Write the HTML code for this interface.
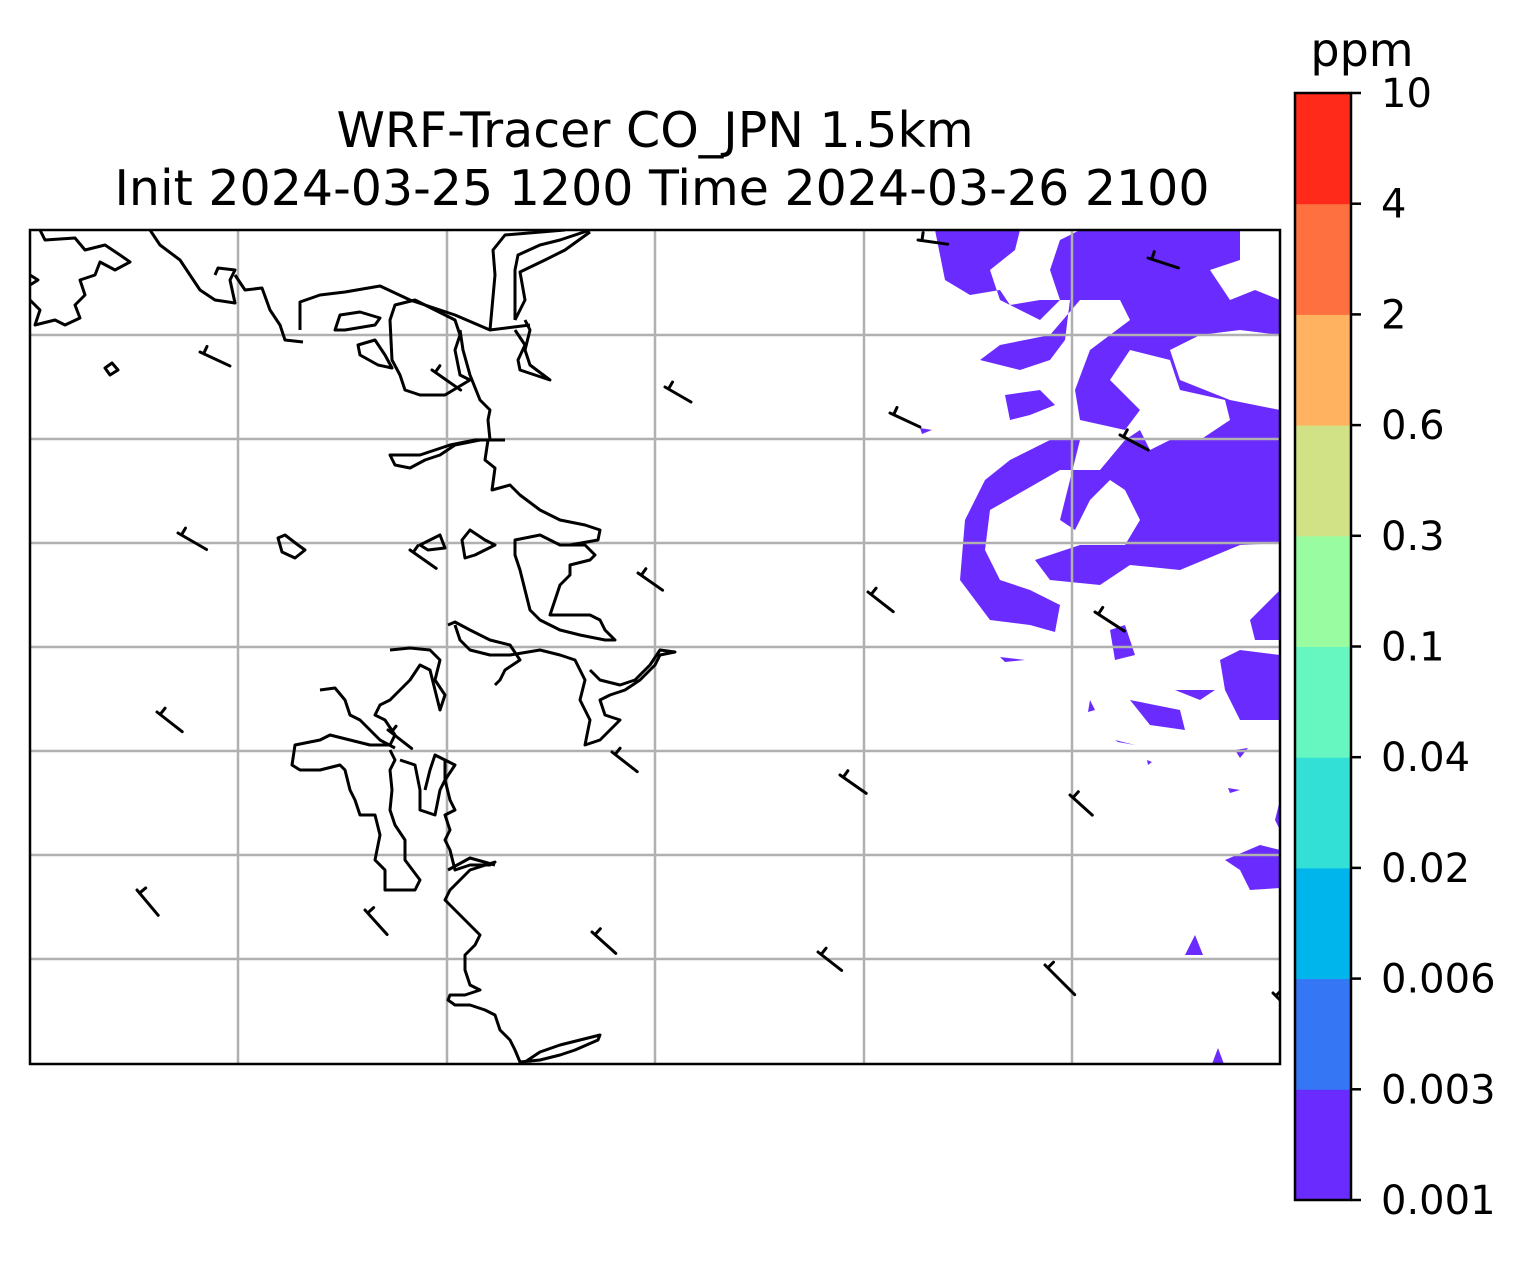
<!DOCTYPE html>
<html><head><meta charset="utf-8"><style>
body{margin:0;background:#fff;font-family:"Liberation Sans","DejaVu Sans",sans-serif}
svg text{font-family:"DejaVu Sans","Liberation Sans",sans-serif}
</style></head><body>
<svg id="chart" width="1528" height="1256" viewBox="0 0 1528 1256" xmlns="http://www.w3.org/2000/svg">
<rect width="1528" height="1256" fill="#fff"/>
<text x="655" y="147" font-size="49" text-anchor="middle">WRF-Tracer CO_JPN 1.5km</text>
<text x="662" y="205" font-size="49" text-anchor="middle">Init 2024-03-25 1200 Time 2024-03-26 2100</text>
<defs><clipPath id="mapclip"><rect x="30" y="230" width="1250" height="834"/></clipPath></defs>
<g clip-path="url(#mapclip)">
<g fill="#6a2bff">
<path d="M935,230 L1020,230 L1015,250 L990,270 L1000,300 L1040,320 L1060,300 L1050,270 L1060,240 L1080,230 L1240,230 L1240,260 L1210,270 L1230,300 L1255,290 L1280,300 L1280,335 L1240,330 L1200,335 L1170,350 L1180,380 L1230,400 L1280,410 L1280,543 L1240,545 L1180,570 L1130,565 L1100,585 L1050,580 L1035,560 L1080,545 L1125,545 L1140,520 L1125,490 L1110,480 L1090,500 L1075,530 L1060,520 L1070,480 L1080,440 L1050,440 L1010,460 L985,480 L965,520 L960,580 L990,620 L1030,625 L1055,632 L1060,605 L1030,590 L1000,580 L985,550 L990,510 L1025,490 L1060,470 L1100,470 L1125,440 L1140,430 L1150,450 L1170,440 L1200,440 L1230,420 L1225,400 L1180,390 L1170,360 L1130,350 L1110,380 L1140,410 L1125,430 L1080,420 L1075,390 L1090,350 L1110,335 L1130,320 L1120,300 L1080,300 L1050,335 L1000,345 L980,360 L1020,370 L1050,360 L1065,340 L1070,300 L1040,300 L1010,305 L1000,290 L970,295 L945,280 Z"/>
<path d="M1005,395 L1040,390 L1055,405 L1030,415 L1010,420 Z"/>
<path d="M1280,590 L1250,620 L1255,640 L1280,640 Z"/>
<path d="M1110,630 L1125,625 L1135,655 L1115,660 Z"/>
<path d="M1280,655 L1240,650 L1220,660 L1225,690 L1240,720 L1280,720 Z"/>
<path d="M1175,690 L1215,690 L1200,700 Z"/>
<path d="M1130,700 L1180,710 L1185,730 L1150,725 Z"/>
<path d="M1000,657 L1025,660 L1005,662 Z"/>
<path d="M1090,700 L1095,710 L1088,712 Z"/>
<path d="M1115,740 L1135,745 L1118,742 Z"/>
<path d="M1235,750 L1248,748 L1240,758 Z"/>
<path d="M1280,800 L1275,820 L1280,830 Z"/>
<path d="M1225,860 L1260,845 L1280,850 L1280,888 L1250,890 L1240,870 Z"/>
<path d="M1185,955 L1195,935 L1203,955 Z"/>
<path d="M1212,1064 L1218,1048 L1224,1064 Z"/>
<path d="M920,428 L932,430 L922,434 Z"/>
<path d="M1228,788 L1240,790 L1230,793 Z"/>
<path d="M1147,760 L1152,762 L1148,765 Z"/>
</g>
<g stroke="#b0b0b0" stroke-width="2.5" id="grid"></g>
<g fill="none" stroke="#000" stroke-width="3" stroke-linejoin="round">
<path d="M40,230 L45,240 L75,238 L85,250 L105,245 L120,255 L130,262 L115,270 L100,262 L95,275 L80,280 L85,295 L75,305 L80,318 L65,325 L55,320 L35,325 L40,310 L30,300"/>
<path d="M30,275 L38,280 L30,285"/>
<path d="M150,230 L160,245 L180,260 L200,290 L215,300 L235,303 L230,280 L235,270 L218,268 L215,275"/>
<path d="M235,275 L245,290 L262,288 L270,310 L280,325 L285,340 L303,342"/>
<path d="M300,330 L300,302 L320,295 L345,292 L380,286 L410,300 L455,315 L490,330 L530,325"/>
<path d="M335,330 L340,315 L360,312 L380,318 L375,325 L345,330 Z"/>
<path d="M358,345 L375,340 L385,355 L392,368 L378,365 L360,355 Z"/>
<path d="M395,305 L415,300 L455,320 L460,335 L455,350 L460,375 L470,380 L445,395 L420,395 L405,390 L400,375 L392,360 L390,320 Z"/>
<path d="M460,330 L463,350 L470,375 L480,400 L490,410 L488,420 L490,440 L505,440"/>
<path d="M490,330 L495,275 L493,250 L505,235 L565,230"/>
<path d="M515,320 L515,270 L518,255 L540,245 L560,240 L590,230"/>
<path d="M515,320 L525,300 L520,272 L545,260 L565,250 L590,232"/>
<path d="M515,330 L525,345 L518,360 L520,370 L550,380 L530,365 L525,350 L530,330 L525,320"/>
<path d="M490,440 L475,440 L450,445 L420,455 L390,455 L395,465 L410,468 L425,460 L440,455 L455,445 L480,440"/>
<path d="M488,440 L485,460 L495,468 L492,490 L510,485 L520,495 L540,510 L560,520 L585,525 L600,530 L598,540 L570,545"/>
<path d="M105,368 L112,363 L118,370 L110,375 Z"/>
<path d="M278,538 L285,535 L298,545 L305,550 L295,558 L282,552 Z"/>
<path d="M420,545 L440,535 L445,548 L428,550 Z"/>
<path d="M462,540 L470,530 L485,540 L495,545 L475,555 L465,558 Z"/>
<path d="M515,540 L540,535 L560,545 L585,545 L595,555 L590,560 L570,565 L570,575 L560,585 L555,600 L550,615 L575,615 L590,615 L600,620 L605,630 L615,640 L605,640 L580,635 L560,630 L540,620 L530,610 L525,590 L520,570 L515,555 Z"/>
<path d="M455,625 L460,640 L470,650 L490,655 L510,655 L540,650 L560,655 L575,660 L585,680 L580,700 L590,720 L585,745 L600,740 L610,730 L620,720 L605,715 L600,700 L610,695 L625,690 L640,680 L655,665 L660,655 L675,652 L660,650 L650,665 L635,680 L620,685 L600,680 L590,670"/>
<path d="M448,625 L455,622 L470,630 L490,640 L510,645 L520,660 L505,670 L500,680 L495,685"/>
<path d="M390,650 L410,648 L430,650 L440,660 L435,680 L445,695 L440,710 L435,690 L430,670 L420,665 L410,680 L400,690 L390,700 L380,705 L375,715 L385,720 L395,735 L390,745 L370,745 L350,740 L330,735 L320,740 L295,745 L292,765 L300,770 L320,770 L340,765 L345,770 L350,790 L355,800 L360,815 L375,815 L380,835 L375,860 L385,870 L385,890 L415,890 L420,880 L405,860 L405,840 L395,825 L390,810 L392,790 L390,770 L395,760 L390,750"/>
<path d="M320,690 L335,688 L345,700 L350,715 L360,720 L370,730 L380,740 L395,748"/>
<path d="M400,760 L415,765 L420,790 L420,810 L435,815 L440,790 L445,780 L445,760 L435,755 L430,770 L425,790"/>
<path d="M445,760 L455,765 L445,780 L450,800 L455,810 L445,815 L450,830 L445,840 L450,850 L455,870 L470,865 L490,865 L495,862 L470,870 L460,880 L450,890 L445,900 L460,915 L470,925 L480,935 L475,945 L465,955 L465,970 L470,985 L480,990 L465,995 L450,995 L448,1000 L455,1005 L470,1005 L485,1010 L495,1015 L500,1030 L510,1040 L515,1050 L520,1062 L540,1060 L560,1055 L575,1050 L598,1040 L600,1035 L580,1040 L560,1045 L540,1052 L525,1062"/>
<path d="M448,870 L470,858 L495,865"/>
</g>
<g id="barbs" stroke="#000" stroke-width="3" stroke-linecap="round"></g>
</g>
<rect x="30" y="230" width="1250" height="834" fill="none" stroke="#000" stroke-width="2.5"/>
<g id="cbar"></g>
<text x="1362" y="66" font-size="46" text-anchor="middle">ppm</text>
<script>
const gridX=[238,447,655,864,1072];
const gridY=[335,439,543,647,751,855,959];
const levels=["0.001","0.003","0.006","0.02","0.04","0.1","0.3","0.6","2","4","10"];
const colors=["#6a2bff","#3476f4","#00b4ec","#33e0d6","#66f7c0","#99fca0","#d0e186","#ffb360","#ff7040","#ff2a1a"];
const barbX=[200,432,665,890,918,1148,1120,178,410,638,868,1095,157,388,612,840,1070,137,365,592,818,1045,1273];
const barbY=[352,370,387,413,240,258,435,533,550,573,592,612,712,730,752,775,795,890,910,932,952,965,993];
const barbDir=[25,35,30,25,8,18,28,30,35,35,38,33,38,38,38,35,42,50,48,42,38,45,45];
const barbLen=[33,35,30,33,30,32,32,33,32,30,32,35,32,30,32,32,30,33,33,32,30,42,20];
const NS="http://www.w3.org/2000/svg";
const g=document.getElementById('grid');
gridX.forEach(x=>{const l=document.createElementNS(NS,'line');


l.setAttribute('x1',x);l.setAttribute('x2',x);l.setAttribute('y1',230);l.setAttribute('y2',1064);g.appendChild(l);});
gridY.forEach(y=>{const l=document.createElementNS(NS,'line');


l.setAttribute('y1',y);l.setAttribute('y2',y);l.setAttribute('x1',30);l.setAttribute('x2',1280);g.appendChild(l);});
const b=document.getElementById('barbs');
barbX.forEach((x,i)=>{const a=barbDir[i]*Math.PI/180,L=barbLen[i];
const x2=x+L*Math.cos(a),y2=barbY[i]+L*Math.sin(a);
const tx=x+4*Math.cos(a),ty=barbY[i]+4*Math.sin(a);
const p=document.createElementNS(NS,'path');


p.setAttribute('d',`M${x2},${y2} L${x},${barbY[i]} M${tx},${ty} L${tx+8*Math.sin(a)},${ty-8*Math.cos(a)}`);
b.appendChild(p);});
const cb=document.getElementById('cbar');
const cbTop=93,cbBot=1200,cx=1295,cw=56,binH=(cbBot-cbTop)/colors.length;
colors.forEach((c,i)=>{const r=document.createElementNS(NS,'rect');


r.setAttribute('x',cx);r.setAttribute('y',cbBot-(i+1)*binH);r.setAttribute('width',cw);r.setAttribute('height',binH+0.5);r.setAttribute('fill',c);cb.appendChild(r);});
const fr=document.createElementNS(NS,'rect');


fr.setAttribute('x',cx);fr.setAttribute('y',cbTop);fr.setAttribute('width',cw);fr.setAttribute('height',cbBot-cbTop);fr.setAttribute('fill','none');fr.setAttribute('stroke','#000');fr.setAttribute('stroke-width','2.5');cb.appendChild(fr);
levels.forEach((t,i)=>{const y=cbBot-i*binH;
const tk=document.createElementNS(NS,'line');


tk.setAttribute('x1',cx+cw);tk.setAttribute('x2',cx+cw+10);tk.setAttribute('y1',y);tk.setAttribute('y2',y);tk.setAttribute('stroke','#000');tk.setAttribute('stroke-width','2.5');cb.appendChild(tk);
const tx=document.createElementNS(NS,'text');


tx.setAttribute('x',cx+cw+30);tx.setAttribute('y',y+14);tx.setAttribute('font-size','40');tx.textContent=t;cb.appendChild(tx);});
</script>
</svg>
</body></html>
